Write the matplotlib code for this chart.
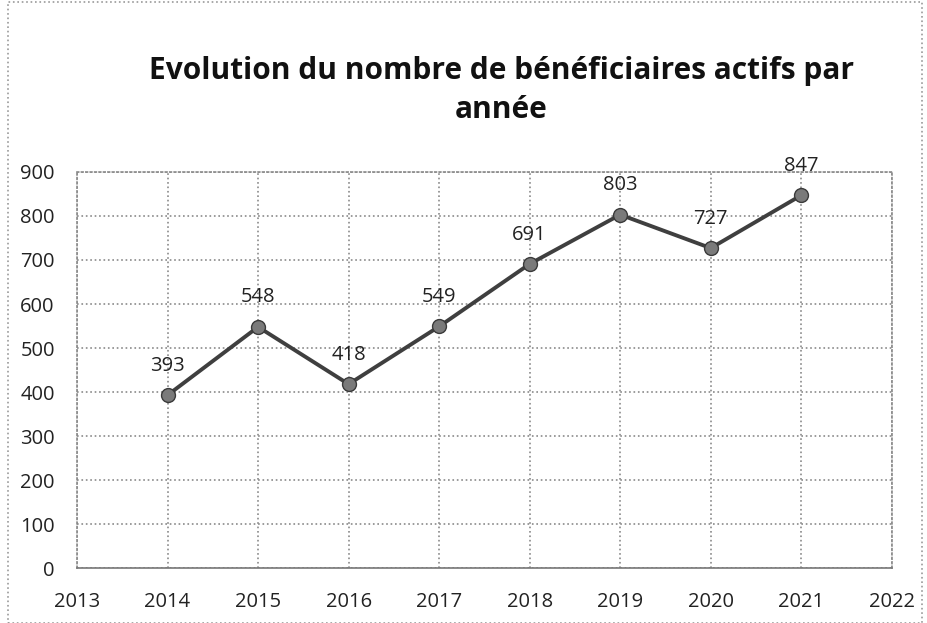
import numpy as np
import matplotlib.pyplot as plt
from matplotlib.patches import Rectangle

# Data
annees = [2014, 2015, 2016, 2017, 2018, 2019, 2020, 2021]
beneficiaires = [393, 548, 418, 549, 691, 803, 727, 847]

plt.rcParams['font.family'] = ['Open Sans', 'DejaVu Sans']

fig = plt.figure(figsize=(9.28, 6.23), dpi=100)
ax = fig.add_axes([0.083, 0.088, 0.878, 0.636])

# Scanned frame around the chart
fig.patches.append(Rectangle((0.009, 0.0), 0.985, 0.997, transform=fig.transFigure,
                             fill=False, edgecolor='#9a9a9a', linewidth=1.2, linestyle=':'))

ax.plot(annees, beneficiaires, color='#3f3f3f', linewidth=2.8, marker='o',
        markersize=10, markerfacecolor='#7a7a7a', markeredgecolor='#3a3a3a', zorder=3)

for x, y in zip(annees, beneficiaires):
    ax.annotate(str(y), (x, y), xytext=(0, 14), textcoords='offset points',
                ha='center', va='bottom', fontsize=14.5, color='#222222')

ax.set_xlim(2013, 2022)
ax.set_ylim(0, 900)
ax.set_xticks(np.arange(2013, 2023))
ax.set_yticks(np.arange(0, 901, 100))
ax.tick_params(length=0, labelsize=14.5, colors='#222222')
ax.tick_params(axis='x', pad=17)
ax.tick_params(axis='y', pad=16)

ax.grid(True, color='#8a8a8a', linestyle=':', linewidth=1.2)
ax.set_axisbelow(True)
for s in ax.spines.values():
    s.set_color('#8a8a8a')
    s.set_linestyle(':')
    s.set_linewidth(1.2)
ax.spines['bottom'].set_linestyle('-')
ax.spines['bottom'].set_color('#777777')

fig.text(0.54, 0.855, "Evolution du nombre de bénéficiaires actifs par\nannée",
         ha='center', va='center', fontsize=21.5, fontweight='bold',
         color='#111111', linespacing=1.4)

plt.savefig('out.png', dpi=100)
